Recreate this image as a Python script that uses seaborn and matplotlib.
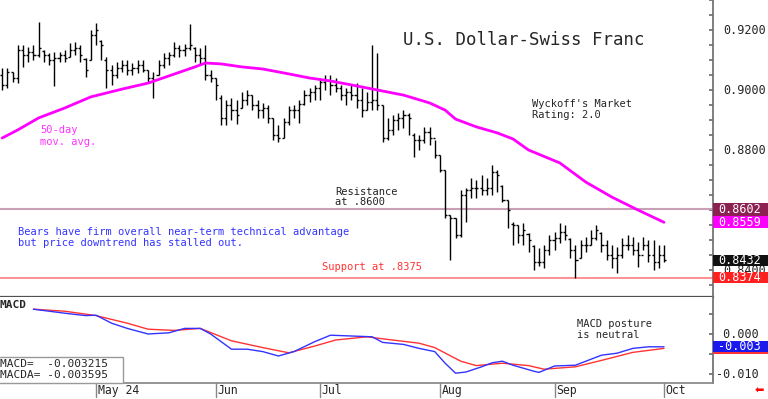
import numpy as np
import pandas as pd
import seaborn as sns
import matplotlib.pyplot as plt
import matplotlib.transforms as mtrans
from matplotlib.patches import Rectangle

sns.set_theme(style="white")
plt.rcParams['font.family'] = ['DejaVu Sans Mono', 'DejaVu Sans']

# trading days shown on the chart
days = pd.bdate_range("2024-04-05", "2024-10-01")
month_labels = ["May 24", "Jun", "Jul", "Aug", "Sep", "Oct"]

# daily bars
highs = [.9073, .9073, .9060, .9150, .9150, .9143, .9150, .9227, .9133, .9123,
         .9127, .9127, .9133, .9157, .9160, .9150, .9107, .9200, .9223, .9167,
         .9110, .9083, .9093, .9100, .9100, .9090, .9100, .9100, .9067, .9060,
         .9100, .9123, .9127, .9160, .9150, .9153, .9220, .9143, .9140, .9150,
         .9067, .9040, .8983, .8967, .8973, .8967, .8993, .9000, .8983, .8967,
         .8957, .8950, .8907, .8883, .8907, .8947, .8950, .8967, .9000, .9007,
         .9017, .9040, .9050, .9050, .9040, .9017, .9007, .9017, .9023, .9007,
         .8993, .9150, .9123, .8950, .8907, .8917, .8923, .8933, .8923, .8857,
         .8850, .8877, .8877, .8833, .8783, .8733, .8583, .8573, .8667, .8673,
         .8707, .8700, .8717, .8707, .8750, .8733, .8683, .8633, .8560, .8550,
         .8557, .8523, .8483, .8473, .8483, .8517, .8527, .8557, .8550, .8507,
         .8483, .8500, .8510, .8533, .8550, .8527, .8500, .8483, .8477, .8507,
         .8517, .8510, .8493, .8510, .8500, .8500, .8483, .8483]
lows = [.9000, .9007, .9027, .9023, .9077, .9093, .9100, .9110, .9093, .9083,
        .9013, .9093, .9093, .9110, .9117, .9093, .9043, .9100, .9150, .9100,
        .9007, .9017, .9040, .9060, .9050, .9050, .9057, .9060, .9023, .8973,
        .9050, .9073, .9083, .9110, .9110, .9113, .9133, .9093, .9083, .9033,
        .9027, .8967, .8883, .8883, .8900, .8887, .8940, .8950, .8933, .8907,
        .8907, .8890, .8833, .8827, .8840, .8883, .8907, .8890, .8950, .8960,
        .8967, .8967, .9000, .8983, .8993, .8967, .8950, .8967, .8940, .8910,
        .8933, .8933, .8933, .8827, .8833, .8850, .8867, .8873, .8850, .8777,
        .8800, .8823, .8817, .8773, .8727, .8573, .8433, .8507, .8510, .8560,
        .8640, .8640, .8650, .8650, .8650, .8660, .8627, .8540, .8483, .8490,
        .8483, .8460, .8400, .8413, .8407, .8450, .8467, .8490, .8500, .8440,
        .8373, .8440, .8460, .8483, .8500, .8460, .8433, .8407, .8390, .8440,
        .8467, .8450, .8410, .8467, .8427, .8400, .8407, .8427]
closes = [.9017, .9060, .9040, .9133, .9117, .9127, .9117, .9140, .9117, .9100,
          .9107, .9117, .9107, .9133, .9140, .9117, .9067, .9183, .9200, .9150,
          .9067, .9050, .9073, .9083, .9067, .9073, .9083, .9067, .9040, .9033,
          .9083, .9107, .9117, .9140, .9133, .9140, .9150, .9117, .9107, .9050,
          .9040, .9017, .8907, .8950, .8933, .8917, .8967, .8983, .8950, .8933,
          .8940, .8907, .8850, .8840, .8893, .8933, .8933, .8953, .8983, .8993,
          .9007, .9027, .9033, .9017, .9007, .8983, .8993, .8983, .8967, .8933,
          .8960, .8967, .8950, .8840, .8867, .8900, .8907, .8917, .8907, .8833,
          .8833, .8860, .8840, .8783, .8733, .8583, .8573, .8517, .8650, .8667,
          .8673, .8673, .8667, .8673, .8727, .8717, .8633, .8600, .8550, .8517,
          .8533, .8500, .8427, .8427, .8467, .8500, .8507, .8527, .8517, .8467,
          .8433, .8483, .8483, .8507, .8533, .8483, .8450, .8440, .8450, .8483,
          .8483, .8467, .8450, .8483, .8450, .8427, .8450, .8432]
opens = [.9050, .9017, .9060, .9040, .9133, .9117, .9127, .9117, .9130, .9117,
         .9100, .9107, .9117, .9110, .9133, .9140, .9105, .9100, .9183, .9165,
         .9100, .9067, .9050, .9073, .9083, .9067, .9073, .9083, .9067, .9040,
         .9050, .9083, .9107, .9117, .9140, .9133, .9140, .9140, .9117, .9107,
         .9050, .9040, .8975, .8907, .8950, .8933, .8940, .8967, .8983, .8950,
         .8933, .8940, .8907, .8850, .8840, .8893, .8933, .8933, .8953, .8983,
         .8993, .9007, .9027, .9033, .9017, .9007, .8983, .8993, .8983, .8967,
         .8933, .8960, .8967, .8950, .8840, .8867, .8900, .8907, .8917, .8850,
         .8833, .8833, .8860, .8840, .8783, .8733, .8583, .8573, .8517, .8650,
         .8667, .8673, .8673, .8667, .8673, .8727, .8680, .8633, .8555, .8550,
         .8517, .8520, .8480, .8427, .8427, .8467, .8500, .8507, .8527, .8505,
         .8467, .8440, .8483, .8483, .8507, .8525, .8483, .8450, .8440, .8450,
         .8483, .8483, .8467, .8450, .8483, .8450, .8427, .8450]

# 50-day moving average (bar index, value)
ma_idx = [0, 3, 7, 12, 17, 23, 28, 33, 37, 39, 42, 46, 50, 54, 59, 63, 67, 72,
          77, 82, 85, 87, 91, 95, 98, 101, 107, 112, 117, 122, 127]
ma_val = [.8840, .8867, .8907, .8940, .8977, .9003, .9023, .9053, .9077, .9090,
          .9087, .9077, .9070, .9057, .9040, .9030, .9017, .9000, .8983, .8957,
          .8933, .8903, .8877, .8857, .8837, .8800, .8757, .8693, .8643, .8600,
          .8559]

# MACD and its average
macd_idx = [6, 12, 16, 18, 21, 24, 28, 32, 35, 38, 40, 44, 47, 50, 53, 56, 60,
            63, 67, 71, 73, 77, 80, 83, 85, 87, 89, 92, 94, 96, 98, 102, 103,
            106, 110, 112, 115, 118, 121, 124, 127]
macd_val = [.0062, .0052, .0046, .0047, .0027, .0014, .0000, .0003, .0014,
            .0014, .0000, -.0038, -.0038, -.0044, -.0055, -.0044, -.0019,
            -.0003, -.0005, -.0007, -.0021, -.0026, -.0036, -.0044, -.0073,
            -.0098, -.0095, -.0082, -.0072, -.0068, -.0078, -.0093, -.0096,
            -.0080, -.0078, -.0068, -.0053, -.0048, -.0036, -.0032, -.0032]
sig_idx = [6, 12, 18, 24, 28, 33, 38, 44, 50, 55, 60, 64, 70, 73, 80, 83, 88,
           91, 96, 101, 104, 110, 115, 121, 127]
sig_val = [.0062, .0057, .0046, .0027, .0012, .0009, .0014, -.0017, -.0034,
           -.0047, -.0030, -.0015, -.0007, -.0012, -.0023, -.0034, -.0068,
           -.0079, -.0073, -.0079, -.0088, -.0082, -.0066, -.0046, -.0036]

# right-hand price labels (0.8600 sits under the resistance box)
price_labels = [0.92, 0.90, 0.88, 0.84]

W, H = 768, 399
AXW = 713 / W
fig = plt.figure(figsize=(W / 100, H / 100), dpi=100)
ax = fig.add_axes([0, 1 - 297 / H, AXW, 297 / H])
ax2 = fig.add_axes([0, 1 - 383 / H, AXW, 86 / H])

x = np.arange(len(closes))
x0, x1 = -0.42, 136.4

# ---- price panel
ax.vlines(x, lows, highs, color='black', lw=1.0, zorder=3)
ax.hlines(opens, x - 0.4, x, color='black', lw=1.0, zorder=3)
ax.hlines(closes, x, x + 0.4, color='black', lw=1.0, zorder=3)
sns.lineplot(x=ma_idx, y=ma_val, ax=ax, color='#ff00ff', lw=2, zorder=4)
ax.axhline(0.8602, color='#c9a0b6', lw=1.5, zorder=2)
ax.axhline(0.8374, color='#ff8888', lw=1.3, zorder=2)
ax.set_xlim(x0, x1)
ax.set_ylim(0.831, 0.93)

for s in ['top', 'left']:
    ax.spines[s].set_visible(False)
ax.spines['right'].set_color('#707070')
ax.spines['bottom'].set_color('#505050')
ax.spines['bottom'].set_linewidth(1.6)
ax.set_xticks([])
ax.yaxis.tick_right()
ax.set_yticks(np.arange(0.835, 0.9300, 0.005))
ax.tick_params(axis='y', direction='in', length=3, color='#707070', labelright=False)

tr = mtrans.blended_transform_factory(ax.transAxes, ax.transData)
for v in price_labels:
    ax.text(1 + 10 / 713, v, f"{v:.4f}", transform=tr, fontsize=8.5,
            va='center', ha='left', clip_on=False, zorder=1)


def value_box(axis, val, label, bg, half, fg='white'):
    t = mtrans.blended_transform_factory(axis.transAxes, axis.transData)
    axis.add_patch(Rectangle((1.0, val - half), 55 / 713, 2 * half, transform=t,
                             facecolor=bg, edgecolor='none', clip_on=False, zorder=8))
    if label:
        axis.text(1 + 5 / 713, val, label, transform=t, color=fg, fontsize=8.5,
                  va='center', ha='left', clip_on=False, zorder=9)


value_box(ax, 0.8602, "0.8602", '#8b2252', 0.0021)
value_box(ax, 0.8559, "0.8559", '#ff00ff', 0.0020)
value_box(ax, 0.8432, "0.8432", '#111111', 0.0019)
value_box(ax, 0.8374, "0.8374", '#ff2020', 0.0018)

small = 7.5
def ftext(px, py, s, **kw):
    fig.text(px / W, 1 - py / H, s, va='center', ha='left', **kw)

ftext(403, 40, "U.S. Dollar-Swiss Franc", fontsize=12.5)
ftext(532, 104, "Wyckoff's Market", fontsize=small)
ftext(532, 115, "Rating: 2.0", fontsize=small)
ftext(40, 130, "50-day", fontsize=small, color='#ff33ff')
ftext(40, 142, "mov. avg.", fontsize=small, color='#ff33ff')
ftext(335, 192, "Resistance", fontsize=small, color='#222222')
ftext(335, 202, "at .8600", fontsize=small, color='#222222')
ftext(18, 232, "Bears have firm overall near-term technical advantage",
      fontsize=small, color='#3333ff')
ftext(18, 243, "but price downtrend has stalled out.", fontsize=small, color='#3333ff')
ftext(322, 267, "Support at .8375", fontsize=small, color='#ff3333')

# ---- MACD panel
sns.lineplot(x=sig_idx, y=sig_val, ax=ax2, color='#ff3333', lw=1)
sns.lineplot(x=macd_idx, y=macd_val, ax=ax2, color='#3333ff', lw=1)
ax2.set_xlim(x0, x1)
ax2.set_ylim(-0.01225, 0.00925)
ax2.spines['top'].set_visible(False)
ax2.spines['left'].set_visible(False)
ax2.spines['right'].set_color('#707070')
ax2.spines['bottom'].set_color('#888888')
ax2.set_xticks([])
ax2.yaxis.tick_right()
ax2.set_yticks([-0.010, -0.005, 0.0, 0.005])
ax2.tick_params(axis='y', direction='in', length=3, color='#707070', labelright=False)
tr2 = mtrans.blended_transform_factory(ax2.transAxes, ax2.transData)
ax2.text(1 + 3 / 713, 0.0, " 0.000", transform=tr2, fontsize=8.5, va='center', clip_on=False)
ax2.text(1 + 3 / 713, -0.010, "-0.010", transform=tr2, fontsize=8.5, va='center', clip_on=False)
value_box(ax2, -0.003595, "", '#ff3333', 0.0014)
value_box(ax2, -0.003215, "-0.003", '#1a1aee', 0.0014)

ftext(0, 305, "MACD", fontsize=8, fontweight='bold')
ftext(577, 324, "MACD posture", fontsize=small)
ftext(577, 335, "is neutral", fontsize=small)
fig.patches.append(Rectangle((-2 / W, 1 - 383 / H), 125 / W, 26 / H, transform=fig.transFigure,
                             facecolor='white', edgecolor='#999999', lw=1, zorder=5))
ftext(0, 364, "MACD=  -0.003215", fontsize=8, zorder=6)
ftext(0, 375, "MACDA= -0.003595", fontsize=8, zorder=6)

# month ticks below the MACD panel
month_pos = [i for i in range(1, len(days)) if days[i].month != days[i - 1].month]
trx = mtrans.blended_transform_factory(ax2.transData, ax2.transAxes)
for pos, lab in zip(month_pos, month_labels):
    ax2.plot([pos, pos], [0, -14 / 86], transform=trx, color='#888888', lw=1, clip_on=False)
    ax2.text(pos + 0.3, -7.5 / 86, lab, transform=trx, fontsize=8.3, va='center',
             ha='left', clip_on=False)

fig.text(755 / W, 1 - 391 / H, "\u2b05", color='#ff0000', fontsize=8,
         va='center', ha='left', family=['DejaVu Sans'])

fig.savefig("out.png", dpi=100)
